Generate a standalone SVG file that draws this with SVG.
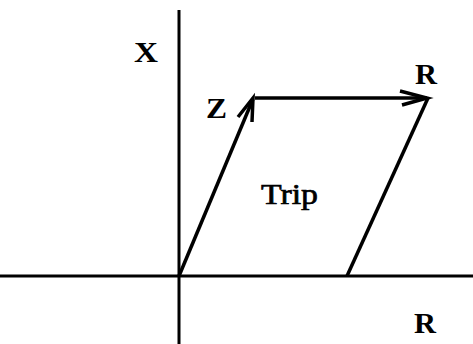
<svg xmlns="http://www.w3.org/2000/svg" width="473" height="344" viewBox="0 0 473 344">
<style>
.ln{stroke:#000;stroke-width:3.5;fill:none;stroke-linecap:butt}
.ax{stroke:#000;stroke-width:3;fill:none}
.lb{font-family:"Liberation Serif","Times New Roman",serif;font-size:30px;font-weight:bold;fill:#000}
</style>
<rect width="473" height="344" fill="#fff"/>
<g id="connectors">
<line class="ax" x1="179" y1="10" x2="179" y2="344"/>
<line class="ax" x1="0" y1="276" x2="473" y2="276"/>
<line class="ln" x1="179" y1="276" x2="253" y2="99"/>
<polyline class="ln" points="238,117 253,98 252,122"/>
<line class="ln" x1="255" y1="98" x2="427" y2="98"/>
<polyline class="ln" points="400,91 427,98 402,105"/>
<line class="ln" x1="428" y1="98" x2="347" y2="276"/>
</g>
<g id="label-x"><text class="lb" x="134" y="62" textLength="24" lengthAdjust="spacingAndGlyphs">X</text></g>
<g id="label-z"><text class="lb" x="206" y="118" textLength="21" lengthAdjust="spacingAndGlyphs">Z</text></g>
<g id="label-r-top"><text class="lb" x="415" y="84" textLength="22" lengthAdjust="spacingAndGlyphs">R</text></g>
<g id="label-trip"><text class="lb" x="261" y="204" textLength="57" lengthAdjust="spacingAndGlyphs" style="font-weight:normal;stroke:#000;stroke-width:0.7">Trip</text></g>
<g id="label-r-bottom"><text class="lb" x="414" y="333" textLength="22" lengthAdjust="spacingAndGlyphs">R</text></g>
</svg>
